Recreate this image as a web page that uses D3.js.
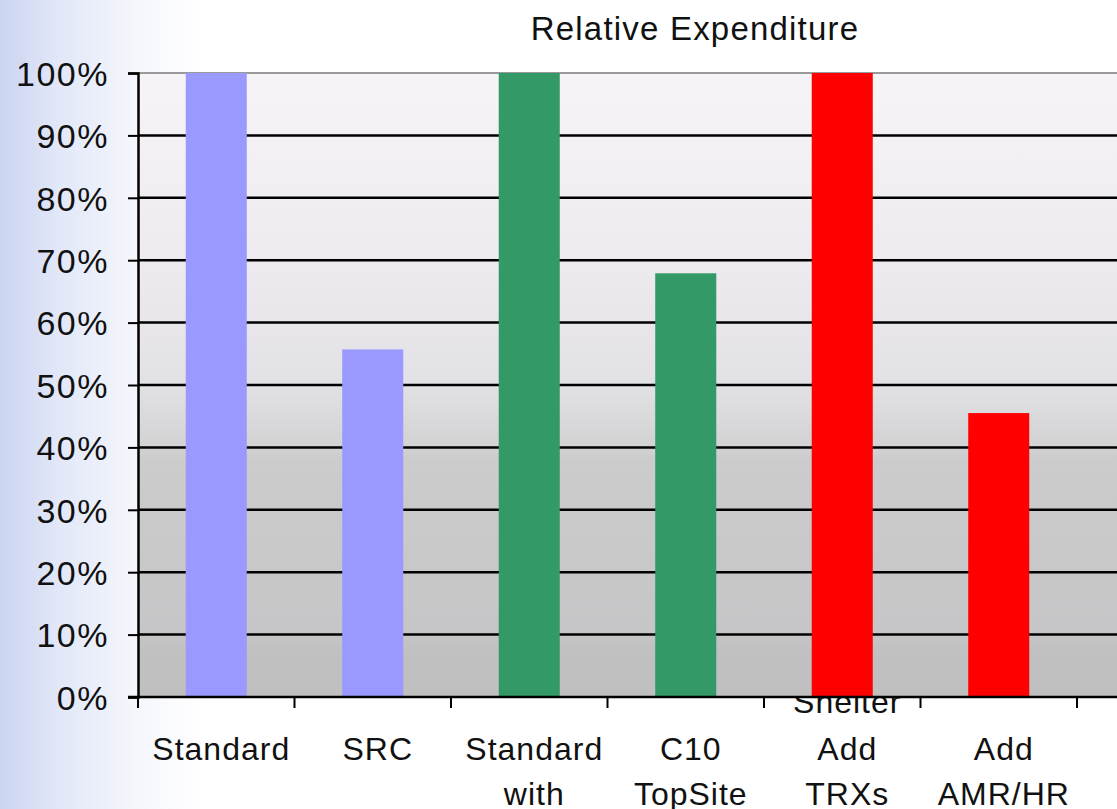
<!DOCTYPE html>
<html>
<head>
<meta charset="utf-8">
<script src="https://cdn.jsdelivr.net/npm/d3@7"></script>
<style>
  html, body { margin: 0; padding: 0; background: #fff; }
  svg { display: block; }
  text { font-family: "Liberation Sans", Arial, sans-serif; fill: #111; }
</style>
</head>
<body>
<svg id="chart" width="1117" height="809"></svg>
<script>
// Chart data
const title = "Relative Expenditure";
const categories = ["Standard", "SRC", "Standard with Shelter", "C10 TopSite", "Add TRXs", "Add AMR/HR"];
const categoryLines = [["Standard"], ["SRC"], ["Standard", "with", "Shelter"], ["C10", "TopSite"], ["Add", "TRXs"], ["Add", "AMR/HR"]];
const values = [1.00, 0.557, 1.00, 0.679, 1.00, 0.455];
const barColors = ["#9999ff", "#9999ff", "#339966", "#339966", "#ff0000", "#ff0000"];
const yTicks = [0, 0.1, 0.2, 0.3, 0.4, 0.5, 0.6, 0.7, 0.8, 0.9, 1.0];

const W = 1117, H = 809;
const plot = { left: 138, right: 1077, top: 73, bottom: 697 };

const svg = d3.select("#chart");
const defs = svg.append("defs");

// Slide background: pale blue wash at the left edge
const bg = defs.append("linearGradient").attr("id", "slideBg")
  .attr("x1", "0").attr("y1", "0").attr("x2", "1").attr("y2", "0");
[[0, "#cbd4f1"], [0.05, "#e1e7f8"], [0.12, "#f4f6fc"], [0.18, "#ffffff"], [1, "#ffffff"]]
  .forEach(([o, c]) => bg.append("stop").attr("offset", o).attr("stop-color", c));

// Plot area: light at the top fading to grey at the bottom
const pg = defs.append("linearGradient").attr("id", "plotBg")
  .attr("x1", "0").attr("y1", "0").attr("x2", "0").attr("y2", "1");
[[0, "#f7f4f7"], [0.3, "#eeebf0"], [0.5, "#e2e1e5"], [0.6, "#d2d2d3"], [0.62, "#cccccc"],
 [0.9, "#c6c5c7"], [0.93, "#c0c0c0"], [1, "#c0c0c0"]]
  .forEach(([o, c]) => pg.append("stop").attr("offset", o).attr("stop-color", c));

svg.append("rect").attr("width", W).attr("height", H).attr("fill", "url(#slideBg)");

// Scales
const x = d3.scaleBand().domain(categories).range([plot.left, plot.right])
  .paddingInner(0.61).paddingOuter(0.305);
const y = d3.scaleLinear().domain([0, 1]).range([plot.bottom, plot.top]);

const step = x.step();
const edge = c => x(c) - (step - x.bandwidth()) / 2;

// Overflowing label fragment tucked under the plot area
svg.append("text")
  .attr("x", x(categories[4]) + x.bandwidth() / 2 + 5)
  .attr("y", 713)
  .attr("text-anchor", "middle")
  .attr("font-size", 32)
  .attr("letter-spacing", 1)
  .text("Shelter");

// Plot background
svg.append("rect")
  .attr("x", plot.left).attr("y", plot.top)
  .attr("width", W - plot.left + 10).attr("height", plot.bottom - plot.top)
  .attr("fill", "url(#plotBg)");

// Top border of plot area
svg.append("line")
  .attr("x1", plot.left).attr("x2", W)
  .attr("y1", plot.top).attr("y2", plot.top)
  .attr("stroke", "#9a9a9a").attr("stroke-width", 2);

// Gridlines
svg.append("g").selectAll("line")
  .data(yTicks.filter(t => t > 0 && t < 1))
  .join("line")
  .attr("x1", plot.left).attr("x2", W)
  .attr("y1", d => y(d)).attr("y2", d => y(d))
  .attr("stroke", "#000").attr("stroke-width", 2.5);

// Bars
svg.append("g").selectAll("rect")
  .data(categories)
  .join("rect")
  .attr("x", d => x(d))
  .attr("width", x.bandwidth())
  .attr("y", (d, i) => y(values[i]))
  .attr("height", (d, i) => y(0) - y(values[i]))
  .attr("fill", (d, i) => barColors[i]);

// Y axis
const yAxis = svg.append("g")
  .attr("transform", `translate(${plot.left},0)`)
  .call(d3.axisLeft(y).tickValues(yTicks).tickFormat(d3.format(".0%")).tickSize(10).tickPadding(19));
yAxis.select(".domain").attr("stroke", "#000").attr("stroke-width", 2.5);
yAxis.selectAll(".tick line").attr("stroke", "#000").attr("stroke-width", 2);
yAxis.selectAll(".tick text")
  .attr("font-size", 34)
  .attr("letter-spacing", 1.5)
  .attr("font-family", "Liberation Sans, Arial, sans-serif")
  .attr("fill", "#111")
  .attr("dy", "0.36em");

// X axis baseline extends to the right edge
svg.append("line")
  .attr("x1", plot.left - 10).attr("x2", W)
  .attr("y1", plot.bottom).attr("y2", plot.bottom)
  .attr("stroke", "#000").attr("stroke-width", 2.5);

// Category boundary ticks
const boundaries = categories.map(edge).concat([edge(categories[categories.length - 1]) + step]);
svg.append("g").selectAll("line")
  .data(boundaries)
  .join("line")
  .attr("x1", d => d).attr("x2", d => d)
  .attr("y1", plot.bottom).attr("y2", plot.bottom + 11)
  .attr("stroke", "#000").attr("stroke-width", 2);

// Category labels
const labels = svg.append("g").selectAll("text")
  .data(categories)
  .join("text")
  .attr("text-anchor", "middle")
  .attr("font-size", 32)
  .attr("letter-spacing", 1);
labels.each(function (d, i) {
  const t = d3.select(this);
  categoryLines[i].forEach((line, k) => {
    t.append("tspan")
      .attr("x", x(d) + x.bandwidth() / 2 + 5)
      .attr("y", 760 + k * 45)
      .text(line);
  });
});

// Title
svg.append("text")
  .attr("x", 695).attr("y", 40)
  .attr("text-anchor", "middle")
  .attr("font-size", 33)
  .attr("letter-spacing", 1.2)
  .text(title);
</script>
</body>
</html>
